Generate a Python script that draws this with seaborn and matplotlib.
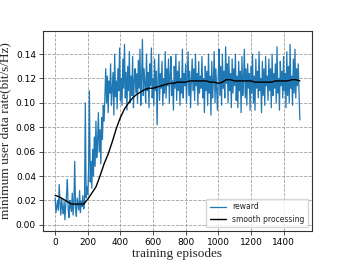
import numpy as np
import pandas as pd
import matplotlib
matplotlib.use("Agg")
import matplotlib.pyplot as plt
import seaborn as sns

# reward, one value every 5 episodes (0..1500)
reward_step = 5
reward = [
    0.022, 0.010, 0.015, 0.020, 0.012, 0.033, 0.018, 0.008, 0.021, 0.014, 0.009, 0.019, 0.004, 0.016, 0.025, 0.037, 0.012, 0.006, 0.020, 0.015,
    0.011, 0.026, 0.008, 0.018, 0.052, 0.014, 0.007, 0.022, 0.017, 0.012, 0.028, 0.010, 0.019, 0.015, 0.024, 0.013, 0.018, 0.100, 0.022, 0.031,
    0.025, 0.045, 0.110, 0.035, 0.052, 0.030, 0.062, 0.040, 0.072, 0.048, 0.085, 0.055, 0.068, 0.092, 0.060, 0.078, 0.050, 0.088, 0.070, 0.098,
    0.085, 0.105, 0.128, 0.100, 0.122, 0.092, 0.118, 0.108, 0.132, 0.098, 0.112, 0.125, 0.090, 0.140, 0.105, 0.118, 0.095, 0.128, 0.110, 0.145,
    0.102, 0.120, 0.098, 0.136, 0.112, 0.148, 0.104, 0.125, 0.094, 0.130, 0.110, 0.142, 0.100, 0.122, 0.106, 0.138, 0.096, 0.118, 0.128, 0.108,
    0.124, 0.100, 0.135, 0.112, 0.144, 0.098, 0.120, 0.152, 0.106, 0.128, 0.115, 0.100, 0.140, 0.110, 0.125, 0.096, 0.132, 0.114, 0.145, 0.104,
    0.120, 0.098, 0.136, 0.110, 0.126, 0.082, 0.118, 0.140, 0.102, 0.124, 0.112, 0.134, 0.098, 0.120, 0.108, 0.142, 0.104, 0.128, 0.114, 0.136,
    0.100, 0.122, 0.138, 0.106, 0.118, 0.094, 0.130, 0.112, 0.140, 0.102, 0.126, 0.110, 0.134, 0.098, 0.120, 0.108, 0.144, 0.104, 0.124, 0.114,
    0.132, 0.100, 0.120, 0.142, 0.106, 0.126, 0.096, 0.118, 0.136, 0.110, 0.128, 0.102, 0.140, 0.114, 0.124, 0.098, 0.134, 0.108, 0.122, 0.112,
    0.138, 0.104, 0.120, 0.092, 0.130, 0.110, 0.126, 0.098, 0.140, 0.108, 0.122, 0.090, 0.134, 0.104, 0.118, 0.142, 0.100, 0.128, 0.112, 0.094,
    0.124, 0.144, 0.106, 0.130, 0.098, 0.140, 0.112, 0.126, 0.104, 0.146, 0.116, 0.132, 0.100, 0.138, 0.110, 0.124, 0.096, 0.136, 0.108, 0.128,
    0.114, 0.140, 0.102, 0.122, 0.096, 0.134, 0.110, 0.126, 0.092, 0.138, 0.106, 0.120, 0.144, 0.104, 0.128, 0.098, 0.132, 0.112, 0.124, 0.094,
    0.130, 0.108, 0.140, 0.100, 0.122, 0.094, 0.136, 0.112, 0.126, 0.104, 0.142, 0.110, 0.120, 0.092, 0.134, 0.106, 0.128, 0.098, 0.138, 0.114,
    0.122, 0.102, 0.136, 0.110, 0.128, 0.096, 0.140, 0.106, 0.124, 0.112, 0.132, 0.100, 0.146, 0.108, 0.120, 0.094, 0.134, 0.114, 0.126, 0.104,
    0.138, 0.110, 0.124, 0.096, 0.142, 0.106, 0.130, 0.100, 0.148, 0.112, 0.122, 0.098, 0.136, 0.108, 0.144, 0.104, 0.128, 0.114, 0.132, 0.110,
    0.086,
]

# smoothed curve, one value every 25 episodes
smooth_step = 25
smooth = [
    0.024, 0.023, 0.021, 0.019, 0.017, 0.017, 0.017, 0.017, 0.021, 0.026,
    0.031, 0.040, 0.050, 0.058, 0.068, 0.079, 0.088, 0.095, 0.100, 0.104,
    0.107, 0.109, 0.111, 0.112, 0.112, 0.113, 0.114, 0.115, 0.116, 0.116,
    0.117, 0.117, 0.117, 0.118, 0.118, 0.118, 0.118, 0.118, 0.117, 0.117,
    0.116, 0.117, 0.119, 0.119, 0.118, 0.118, 0.118, 0.118, 0.118, 0.117,
    0.117, 0.117, 0.117, 0.117, 0.118, 0.118, 0.118, 0.118, 0.119, 0.119,
    0.118,
]

xticks = [0, 200, 400, 600, 800, 1000, 1200, 1400]
yticks = [0.00, 0.02, 0.04, 0.06, 0.08, 0.10, 0.12, 0.14]

df_reward = pd.DataFrame({"episode": np.arange(len(reward)) * reward_step, "value": reward})
df_smooth = pd.DataFrame({"episode": np.arange(len(smooth)) * smooth_step, "value": smooth})

sns.set_style("whitegrid", {"grid.linestyle": "--", "grid.color": "#b0b0b0",
                            "axes.edgecolor": "#333333", "xtick.bottom": True, "ytick.left": True})
plt.rcParams["font.family"] = ["DejaVu Sans"]

fig = plt.figure(figsize=(3.46, 2.6), dpi=100)
ax = fig.add_axes([0.124, 0.112, 0.778, 0.769])

sns.lineplot(data=df_reward, x="episode", y="value", ax=ax, color="#1f77b4", lw=0.9, label="reward")
sns.lineplot(data=df_smooth, x="episode", y="value", ax=ax, color="black", lw=1.0, label="smooth processing")

ax.set_xlim(-75, 1575)
ax.set_ylim(-0.005, 0.159)
ax.set_xticks(xticks)
ax.set_yticks(yticks)
ax.set_yticklabels([f"{v:.2f}" for v in yticks])
ax.tick_params(labelsize=6.5, length=3, width=0.6, pad=2, colors="#333333", labelcolor="black")
ax.grid(True, linestyle="--", linewidth=0.6, color="#a0a0a0")
for s in ax.spines.values():
    s.set_linewidth(0.8)

ax.set_xlabel("training episodes", fontfamily="Liberation Serif", fontsize=9.5, labelpad=1)
ax.set_ylabel("minimum user data rate(bit/s/Hz)", fontfamily="Liberation Serif", fontsize=9.5, labelpad=3)

ax.legend(loc="lower right", fontsize=5.5, frameon=True, fancybox=True, handlelength=2.2,
          borderpad=0.45, labelspacing=0.45)

fig.savefig("out.png", dpi=100)
